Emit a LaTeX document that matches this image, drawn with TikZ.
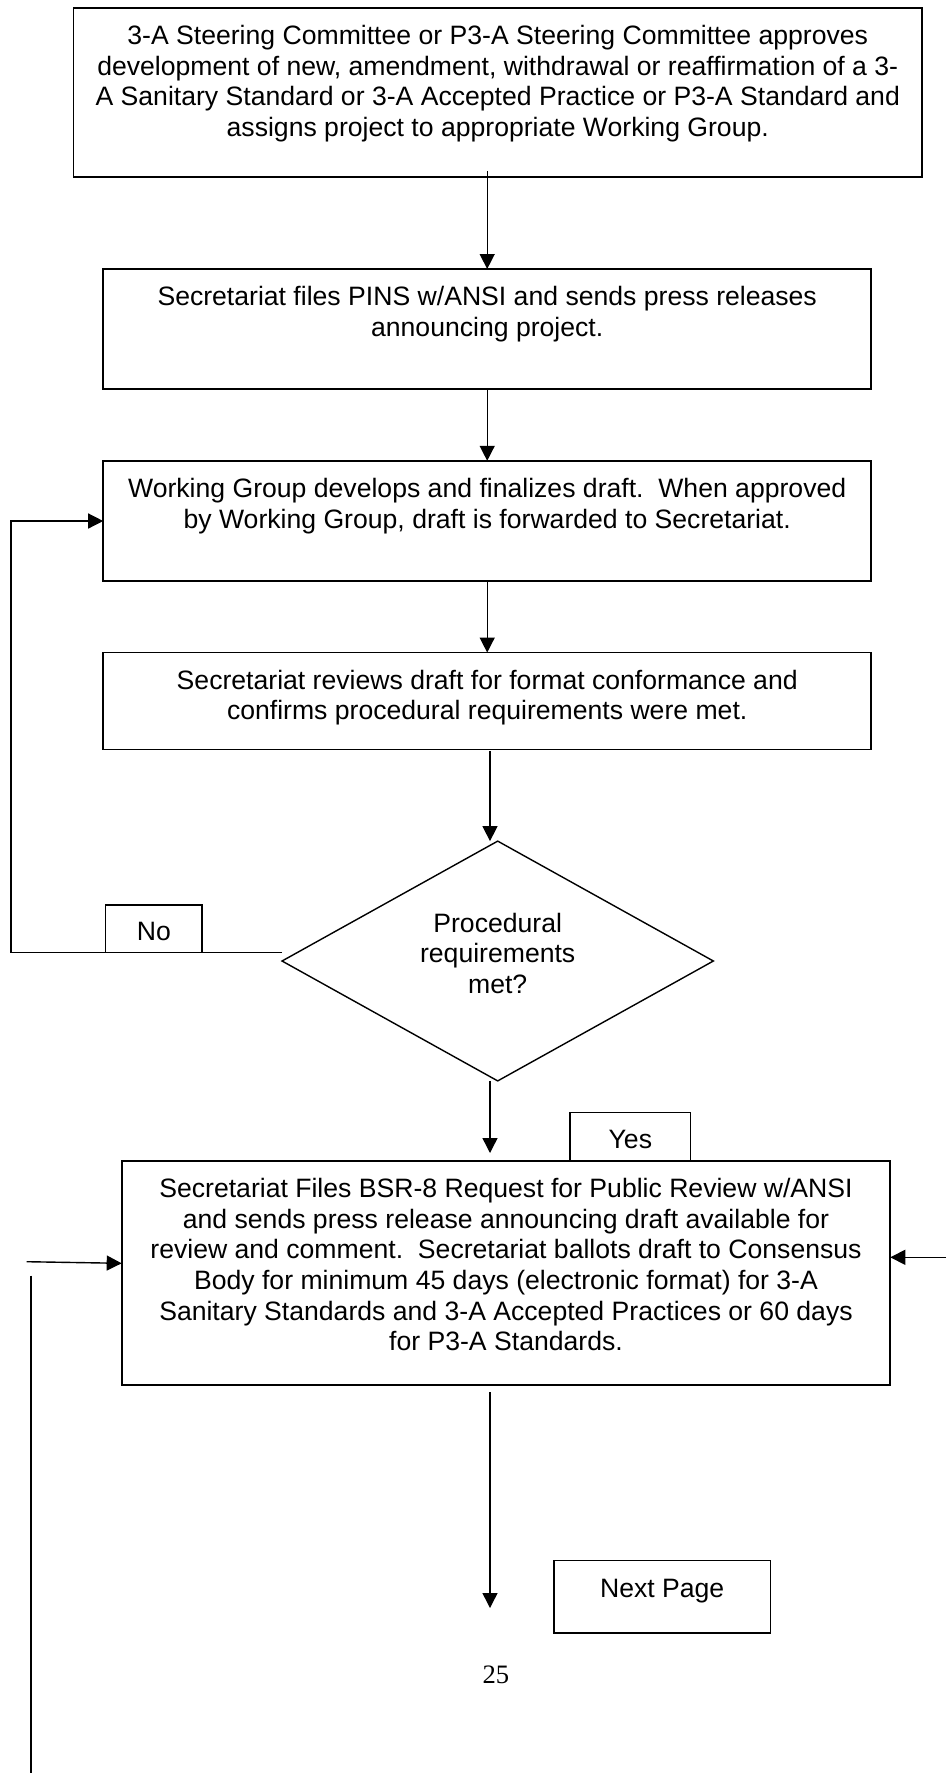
\documentclass[tikz,border=0pt]{standalone}
\usepackage{fontspec}
\setmainfont{Liberation Sans}
\newfontfamily\pagefont{Liberation Serif}
\usetikzlibrary{arrows.meta,shapes.geometric,calc}
\begin{document}
\begin{tikzpicture}[x=1pt,y=-1pt,
  box/.style={draw, line width=1.7pt, inner sep=0pt, outer sep=0pt},
  dbox/.style={draw, diamond, line width=1.4pt, inner sep=0pt, outer sep=0pt},
  txt/.style={align=center, anchor=north, inner sep=0pt, font=\fontsize{26.6}{30.6}\selectfont},
  conn/.style={line width=1.4pt},
  arr/.style={conn, -{Triangle[length=15pt,width=15pt]}}]
\useasboundingbox (0,0) rectangle (946,1773);

% boxes
\node[box, minimum width=848.3pt, minimum height=169.5pt] (b1) at (497.75,92.45) {};
\node[box, minimum width=768pt, minimum height=120.2pt] (b2) at (487.2,329.1) {};
\node[box, minimum width=768pt, minimum height=120.4pt] (b3) at (487.2,521) {};
\node[box, minimum width=768pt, minimum height=96.9pt] (b4) at (487.2,701) {};
\node[dbox, minimum width=431.3pt, minimum height=239.8pt] (d) at (497.7,961) {};
\node[box, line width=1.4pt, minimum width=96.5pt, minimum height=47.8pt] (no) at (153.85,928.7) {};
\node[box, line width=1.4pt, minimum width=120.7pt, minimum height=48.7pt] (yes) at (630.35,1136.65) {};
\node[box, minimum width=768.6pt, minimum height=224.2pt] (b5) at (506,1273.1) {};
\node[box, minimum width=216.5pt, minimum height=72.7pt] (np) at (662.15,1596.75) {};

% texts
\node[txt] (t1) at ([yshift=-15.1pt]b1.north) {\strut 3-A Steering Committee or P3-A Steering Committee approves\\
development of new, amendment, withdrawal or reaffirmation of a 3-\\
A Sanitary Standard or 3-A Accepted Practice or P3-A Standard and\\
assigns project to appropriate Working Group.};
\node[txt] (t2) at ([yshift=-15.1pt]b2.north) {\strut Secretariat files PINS w/ANSI and sends press releases\\
announcing project.};
\node[txt] (t3) at ([yshift=-15.1pt]b3.north) {\strut Working Group develops and finalizes draft.\ \ When approved\\
by Working Group, draft is forwarded to Secretariat.};
\node[txt] (t4) at ([yshift=-15.1pt]b4.north) {\strut Secretariat reviews draft for format conformance and\\
confirms procedural requirements were met.};
\node[txt] (td) at ([yshift=50.3pt]d.center) {\strut Procedural\\requirements\\met?};
\node[txt] (tno) at ([yshift=-14.2pt]no.north) {\strut No};
\node[txt] (tyes) at ([yshift=-14.2pt]yes.north) {\strut Yes};
\node[txt] (t5) at ([yshift=-15.1pt]b5.north) {\strut Secretariat Files BSR-8 Request for Public Review w/ANSI\\
and sends press release announcing draft available for\\
review and comment.\ \ Secretariat ballots draft to Consensus\\
Body for minimum 45 days (electronic format) for 3-A\\
Sanitary Standards and 3-A Accepted Practices or 60 days\\
for P3-A Standards.};
\node[txt] (tnp) at ([yshift=-15.1pt]np.north) {\strut Next Page};
\node[inner sep=0pt, font=\pagefont\fontsize{26.6}{30.6}\selectfont] (pg) at (495.9,1674.4) {25};

% free ends
\coordinate (lx) at (10.9,952.6);
\coordinate (l5) at (26.7,1261.7);
\coordinate (v1) at (31,1275.7);
\coordinate (v2) at (31,1773);
\coordinate (r5) at (946,1257.3);
\coordinate (e6) at (490,1608);

% connectors
\draw[arr] ([yshift=6pt]b2.north |- b1.south) -- (b2.north);
\draw[arr] (b2.south) -- (b3.north);
\draw[arr] (b3.south) -- (b4.north);
\draw[arr] ([xshift=2.8pt,yshift=-2pt]b4.south) -- ([xshift=2.8pt]b4.south |- d.north);
\draw[arr] ([xshift=-7.7pt]d.south) -- ([xshift=-7.7pt,yshift=8pt]d.south |- b5.north);
\draw[arr] ([yshift=8.4pt]d.west) -- (lx) |- (b3.west);
\draw[arr] (l5) -- ([yshift=9.8pt]b5.west);
\draw[conn] (v1) -- (v2);
\draw[arr] (r5) -- ([yshift=15.8pt]b5.east);
\draw[arr] ([xshift=-16pt,yshift=-7pt]b5.south) -- (e6);
\end{tikzpicture}
\end{document}
